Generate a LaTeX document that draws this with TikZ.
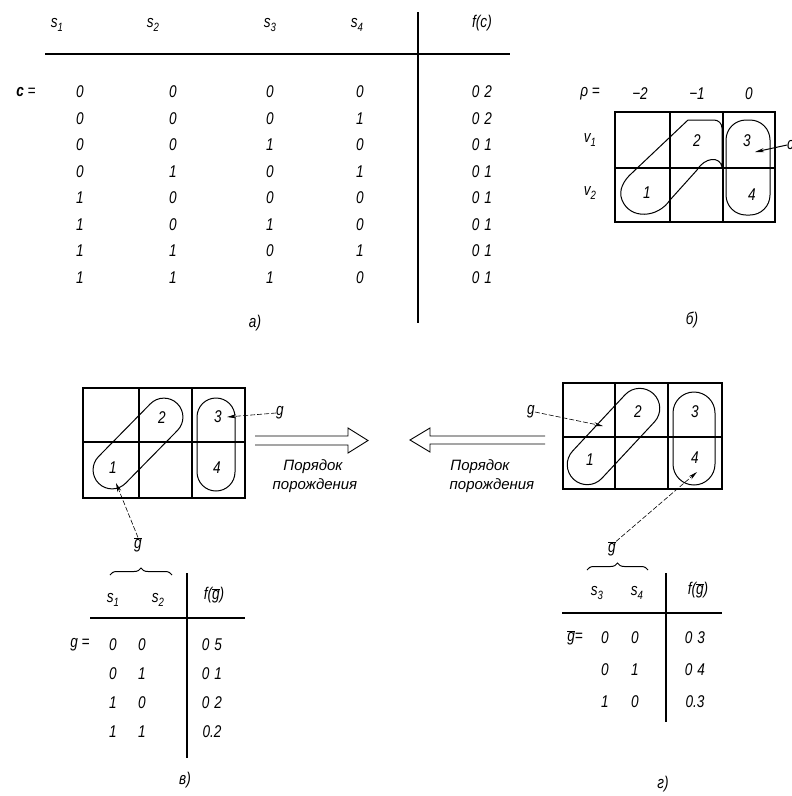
\documentclass[tikz,border=0pt]{standalone}
\usepackage{fontspec}
\setmainfont[FakeStretch=0.8]{Liberation Sans}
\newfontfamily\cyrfont{Liberation Sans}
\usetikzlibrary{arrows.meta,shapes.misc,decorations.pathreplacing}
\newcommand{\lowsub}[1]{\raisebox{-0.5ex}{\fontsize{12}{13}\selectfont #1}}
\newcommand{\gbarsym}{\ensuremath{\overline{\mbox{\itshape g}}}}
\newcommand{\gp}{\hspace{5pt}}
\begin{document}
\begin{tikzpicture}[x=1pt,y=-1pt,
  txt/.style={font=\fontsize{17}{19}\selectfont\itshape, inner sep=0pt},
  small/.style={font=\cyrfont\fontsize{15}{17}\selectfont\itshape, inner sep=0pt},
  gridline/.style={line width=1.7pt},
  tabline/.style={line width=1.5pt},
  loop/.style={line width=1pt},
  leader/.style={line width=0.6pt, dash pattern=on 5pt off 2pt},
  tip/.style={-{Stealth[length=9pt,width=4pt]}},
  dbl/.style={line width=0.9pt, line join=miter},
  brc/.style={line width=1pt, decorate, decoration={brace, amplitude=7pt}}]
\useasboundingbox (0,0) rectangle (792,796);

% ---------------- panel a ----------------
\node[txt] (hs1) at (57,25) {s\lowsub{1}};
\node[txt] (hs2) at (153,25) {s\lowsub{2}};
\node[txt] (hs3) at (270,25) {s\lowsub{3}};
\node[txt] (hs4) at (357,25) {s\lowsub{4}};
\node[txt] (hfc) at (482,23) {f(c)};
\coordinate (ah1) at (45,54);
\coordinate (ah2) at (510,54);
\draw[tabline] (ah1) -- (ah2);
\coordinate (av1) at (418,12);
\coordinate (av2) at (418,323);
\draw[tabline] (av1) -- (av2);
\node[txt] (ceq) at (26,92) {\textbf{c} =};
\foreach \a/\b/\c/\d/\f [count=\i from 0] in
  {0/0/0/0/2, 0/0/0/1/2, 0/0/1/0/1, 0/1/0/1/1,
   1/0/0/0/1, 1/0/1/0/1, 1/1/0/1/1, 1/1/1/0/1}{
  \pgfmathsetmacro{\yy}{92+26.5*\i}
  \node[txt] (ra\i) at (80,\yy) {\a};
  \node[txt] (rb\i) at (173,\yy) {\b};
  \node[txt] (rc\i) at (270,\yy) {\c};
  \node[txt] (rd\i) at (360,\yy) {\d};
  \node[txt] (rf\i) at (482,\yy) {0\gp\f};
}
\node[txt] (labA) at (255,323) {а)};

% ---------------- panel b ----------------
\node[txt] (rho) at (590,94) {ρ =};
\node[txt] (cm2) at (640,94) {−2};
\node[txt] (cm1) at (697,94) {−1};
\node[txt] (c0) at (749,94) {0};
\node[txt] (v1) at (590,140) {v\lowsub{1}};
\node[txt] (v2) at (590,193) {v\lowsub{2}};
\draw[gridline] (615,112) rectangle (775,222);
\draw[gridline] (670,112) -- (670,222) (723,112) -- (723,222) (615,168) -- (775,168);
\node[txt] (b2) at (697,141) {2};
\node[txt] (b3) at (747,141) {3};
\node[txt] (b1) at (647,193) {1};
\node[txt] (b4) at (752,195) {4};
\draw[loop] (688,120) -- (714,120) to[out=0,in=90] (722,128) -- (722,167)
  .. controls (720,156) and (705,157) .. (697,170) -- (670,200)
  .. controls (658,218) and (630,220) .. (622,200)
  .. controls (618,190) and (624,180) .. (632,173) -- cycle;
\draw[loop, rounded corners=20] (726,120) rectangle (770,215);
\node[txt, anchor=west] (cc) at (787,145) {c};
\coordinate (bt) at (755,152);
\draw[loop, tip] (cc.west) -- (bt);
\node[txt] (labB) at (692,320) {б)};

% ---------------- panel v ----------------
\draw[gridline] (83,388) rectangle (245,498);
\draw[gridline] (139,388) -- (139,498) (192,388) -- (192,498) (83,442) -- (245,442);
\node[txt] (v2n) at (162,418) {2};
\node[txt] (v3n) at (218,417) {3};
\node[txt] (v1n) at (113,468) {1};
\node[txt] (v4n) at (217,468) {4};
\node[loop, draw, rounded rectangle, minimum width=112pt, minimum height=38pt, rotate=45.5, inner sep=0pt] (vla) at (138,443.5) {};
\node[loop, draw, rounded rectangle, minimum width=93pt, minimum height=38pt, rotate=90, inner sep=0pt] (vlb) at (216,444.5) {};
\node[txt] (vg) at (280,413) {g};
\coordinate (vgt) at (227,417);
\draw[leader, tip] (vg.west) -- (vgt);
\node[txt] (vgb) at (138,545) {\gbarsym};
\coordinate (vgbt) at (116,483);
\draw[leader, tip] (vgb.north) -- (vgbt);
\coordinate (va0) at (255,436);
\coordinate (va1) at (255,445);
\draw[dbl] (va0) -- (348,436) -- (348,428) -- (368,440.5) -- (348,453) -- (348,445) -- (va1);
\node[small] (vp1) at (313,467) {Порядок};
\node[small] (vp2) at (315,486) {порождения};

% ---------------- panel g ----------------
\draw[gridline] (563,383) rectangle (722,489);
\draw[gridline] (615,383) -- (615,489) (668,383) -- (668,489) (563,437) -- (722,437);
\node[txt] (g2n) at (638,412) {2};
\node[txt] (g3n) at (695,412) {3};
\node[txt] (g1n) at (590,460) {1};
\node[txt] (g4n) at (695,458) {4};
\node[loop, draw, rounded rectangle, minimum width=117pt, minimum height=40pt, rotate=47, inner sep=0pt] (gla) at (613.5,436.5) {};
\node[loop, draw, rounded rectangle, minimum width=93pt, minimum height=42pt, rotate=90, inner sep=0pt] (glb) at (694,438.5) {};
\node[txt] (gg) at (531,412) {g};
\coordinate (ggt) at (603,426);
\draw[leader, tip] (gg.east) -- (ggt);
\node[txt] (ggb) at (612,549) {\gbarsym};
\coordinate (ggbt) at (697,472);
\draw[leader, tip] (ggb.north east) -- (ggbt);
\coordinate (ga0) at (545,436);
\coordinate (ga1) at (545,444);
\draw[dbl] (ga0) -- (430,436) -- (430,428) -- (410,440) -- (430,452) -- (430,444) -- (ga1);
\node[small] (gp1) at (480,467) {Порядок};
\node[small] (gp2) at (492,486) {порождения};

% ---------------- table v ----------------
\coordinate (tvb0) at (110,575);
\coordinate (tvb1) at (172,575);
\draw[brc] (tvb0) -- (tvb1);
\node[txt] (tvs1) at (113,600) {s\lowsub{1}};
\node[txt] (tvs2) at (158,600) {s\lowsub{2}};
\node[txt] (tvf) at (214,595) {f(\gbarsym)};
\coordinate (tvh0) at (90,618);
\coordinate (tvh1) at (245,618);
\draw[tabline] (tvh0) -- (tvh1);
\coordinate (tvv0) at (187,573);
\coordinate (tvv1) at (187,758);
\draw[tabline] (tvv0) -- (tvv1);
\node[txt] (tveq) at (80,645) {g =};
\foreach \a/\b/\f [count=\i from 0] in {0/0/0\gp 5, 0/1/0\gp 1, 1/0/0\gp 2, 1/1/0.2}{
  \pgfmathsetmacro{\yy}{645+29*\i}
  \node[txt] (tva\i) at (113,\yy) {\a};
  \node[txt] (tvb\i) at (142,\yy) {\b};
  \node[txt] (tvf\i) at (212,\yy) {\f};
}
\node[txt] (labV) at (185,780) {в)};

% ---------------- table g ----------------
\coordinate (tgb0) at (587,570);
\coordinate (tgb1) at (648,570);
\draw[brc] (tgb0) -- (tgb1);
\node[txt] (tgs3) at (597,593) {s\lowsub{3}};
\node[txt] (tgs4) at (637,593) {s\lowsub{4}};
\node[txt] (tgf) at (698,590) {f(\gbarsym)};
\coordinate (tgh0) at (562,613);
\coordinate (tgh1) at (722,613);
\draw[tabline] (tgh0) -- (tgh1);
\coordinate (tgv0) at (666,573);
\coordinate (tgv1) at (666,722);
\draw[tabline] (tgv0) -- (tgv1);
\node[txt] (tgeq) at (575,638) {\gbarsym =};
\foreach \a/\b/\f [count=\i from 0] in {0/0/0\gp 3, 0/1/0\gp 4, 1/0/0.3}{
  \pgfmathsetmacro{\yy}{638+32*\i}
  \node[txt] (tga\i) at (605,\yy) {\a};
  \node[txt] (tgb\i) at (635,\yy) {\b};
  \node[txt] (tgf\i) at (695,\yy) {\f};
}
\node[txt] (labG) at (663,784) {г)};
\end{tikzpicture}
\end{document}
